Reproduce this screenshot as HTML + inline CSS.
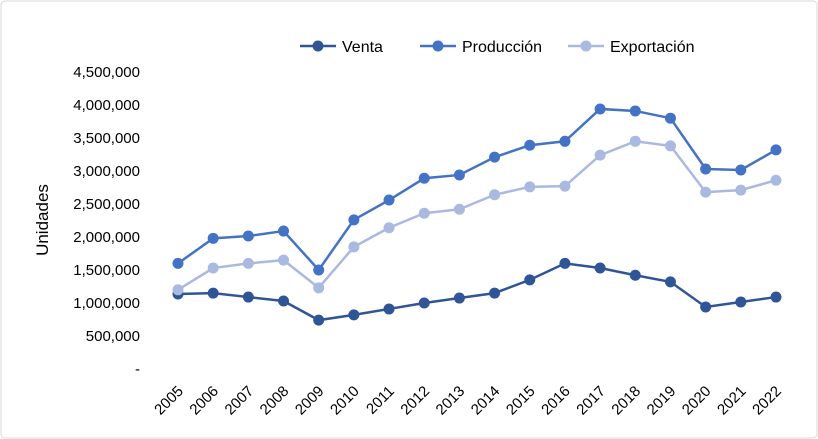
<!DOCTYPE html>
<html><head><meta charset="utf-8"><style>
body{margin:0;background:#fff;}
svg{display:block;font-family:"Liberation Sans",Arial,sans-serif;}
</style></head><body>
<svg id="chart" width="818" height="439">
<rect x="1" y="1" width="816" height="437" rx="4" fill="#fff" stroke="#d9d9d9"/>
<g id="grid"></g>
<text x="48" y="220" transform="rotate(-90 48 220)" text-anchor="middle" font-size="17" fill="#000">Unidades</text>
<g id="legend"></g>
<g id="plot"></g>
</svg>
<script>
const years=["2005","2006","2007","2008","2009","2010","2011","2012","2013","2014","2015","2016","2017","2018","2019","2020","2021","2022"];
const venta=[1136000,1150000,1090000,1030000,740000,820000,910000,1000000,1075000,1150000,1350000,1600000,1530000,1420000,1320000,940000,1015000,1090000];
const produccion=[1600000,1980000,2015000,2090000,1500000,2260000,2560000,2890000,2940000,3210000,3390000,3450000,3940000,3910000,3800000,3030000,3015000,3320000];
const exportacion=[1200000,1530000,1600000,1650000,1230000,1850000,2140000,2360000,2420000,2640000,2760000,2770000,3240000,3450000,3380000,2680000,2710000,2860000];
const yTicks=[0,500000,1000000,1500000,2000000,2500000,3000000,3500000,4000000,4500000];
const seriesNames=["Venta","Producción","Exportación"];
const colors=["#2f5597","#4472c4","#a9b9e0"];
const NS="http://www.w3.org/2000/svg";
const x0=178,x1=776,yb=369,yt=72,ymax=4500000;
const xs=i=>x0+i*(x1-x0)/(years.length-1);
const ys=v=>yb-v/ymax*(yb-yt);
function mk(t,a,p){const e=document.createElementNS(NS,t);for(const k in a)e.setAttribute(k,a[k]);p.appendChild(e);return e;}
const grid=document.getElementById('grid');
yTicks.forEach(v=>{
 const t=mk('text',{x:140,y:ys(v)+5,'text-anchor':'end','font-size':15,fill:'#000'},grid);
 
 
 t.textContent=v===0?'-':v.toLocaleString('en-US');
});
years.forEach((y,i)=>{
 const t=mk('text',{x:xs(i)+6,y:392,'text-anchor':'end','font-size':15,fill:'#000',transform:`rotate(-45 ${xs(i)+6} 392)`},grid);
 
 
 t.textContent=y;
});
const plot=document.getElementById('plot');
[venta,produccion,exportacion].forEach((s,k)=>{
 const g=mk('g',{},plot);
 
 
 const pl=mk('polyline',{points:s.map((v,i)=>xs(i)+','+ys(v)).join(' '),fill:'none',stroke:colors[k],'stroke-width':2.5},g);
 
 
 s.forEach((v,i)=>{
  const c=mk('circle',{cx:xs(i),cy:ys(v),r:5.5,fill:colors[k]},g);
  
  
 });
});
const lg=document.getElementById('legend');
const lx=[300,420,568];
seriesNames.forEach((n,k)=>{
 const g=mk('g',{},lg);
 
 
 mk('line',{x1:lx[k],y1:46,x2:lx[k]+36,y2:46,stroke:colors[k],'stroke-width':2.5},g);
 mk('circle',{cx:lx[k]+18,cy:46,r:5.5,fill:colors[k]},g);
 const t=mk('text',{x:lx[k]+42,y:52,'font-size':16,fill:'#000'},g);
 t.textContent=n;
});
</script>
</body></html>
